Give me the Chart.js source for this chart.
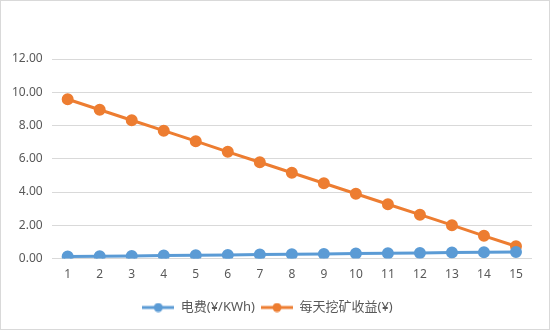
<!DOCTYPE html>
<html>
<head>
<meta charset="utf-8">
<script src="https://cdn.jsdelivr.net/npm/chart.js@4"></script>
<style>
  body { margin: 0; background: #fff; }
  #wrap { width: 550px; height: 330px; }
</style>
</head>
<body>
<div id="wrap"><canvas id="lineChart" width="550" height="330"></canvas></div>
<script>
const labels = ['1', '2', '3', '4', '5', '6', '7', '8', '9', '10', '11', '12', '13', '14', '15'];
const power = [0.12, 0.14, 0.16, 0.18, 0.20, 0.22, 0.24, 0.26, 0.28, 0.30, 0.32, 0.34, 0.36, 0.38, 0.40];
const profit = [9.58, 8.95, 8.32, 7.69, 7.06, 6.42, 5.79, 5.16, 4.53, 3.90, 3.27, 2.64, 2.01, 1.37, 0.74];
const names = ['电费(¥/KWh)', '每天挖矿收益(¥)'];
const colors = ['#5B9BD5', '#ED7D31'];

const font = "'Noto Sans', 'Noto Sans CJK SC', sans-serif";

// little line + dot sample for the legend
function legendMark(color) {
    const c = document.createElement('canvas');
    c.width = 32;
    c.height = 10;
    const g = c.getContext('2d');
    g.strokeStyle = color;
    g.lineWidth = 3;
    g.beginPath();
    g.moveTo(0, 5);
    g.lineTo(32, 5);
    g.stroke();
    g.fillStyle = color;
    g.beginPath();
    g.arc(16, 5, 4.5, 0, Math.PI * 2);
    g.fill();
    return c;
}
const marks = colors.map(legendMark);

const frame = {
    id: 'frame',
    afterDraw(chart) {
        const c = chart.ctx;
        c.save();
        c.strokeStyle = '#d9d9d9';
        c.lineWidth = 1;
        c.strokeRect(0.5, 0.5, chart.width - 1, chart.height - 1);
        c.restore();
    }
};

const ctx = document.getElementById('lineChart').getContext('2d');

const data = {
    labels: labels,
    datasets: [
    {
        label: names[0],
        data: power,
        borderColor: colors[0],
        backgroundColor: colors[0],
        borderWidth: 3,
        pointRadius: 4.5,
        pointHoverRadius: 4.5
    },
    {
        label: names[1],
        data: profit,
        borderColor: colors[1],
        backgroundColor: colors[1],
        borderWidth: 3,
        pointRadius: 4.5,
        pointHoverRadius: 4.5
    }]
};

const lineChart = new Chart(ctx, {
    type: 'line',
    data: data,
    plugins: [frame],
    options: {
        responsive: false,
        animation: false,
        layout: {
            padding: { top: 59, right: 18, left: 3, bottom: 6 }
        },
        scales: {
            x: {
                offset: true,
                grid: { display: false },
                border: { display: false },
                ticks: { color: '#595959', padding: 1, font: { family: font, size: 12 } },
                afterFit: scale => { scale.height += 12; }
            },
            y: {
                min: 0,
                max: 12,
                grid: { color: '#d9d9d9', drawTicks: false },
                border: { display: false },
                ticks: {
                    stepSize: 2,
                    color: '#595959',
                    padding: 9,
                    font: { family: font, size: 12 },
                    callback: v => v.toFixed(2)
                }
            }
        },
        plugins: {
            legend: {
                position: 'bottom',
                labels: {
                    usePointStyle: true,
                    pointStyleWidth: 32,
                    padding: 6,
                    color: '#595959',
                    font: { family: font, size: 13 },
                    generateLabels(chart) {
                        const items = Chart.defaults.plugins.legend.labels.generateLabels(chart);
                        items.forEach((it, i) => { it.pointStyle = marks[i]; });
                        return items;
                    }
                }
            },
            tooltip: { enabled: false }
        }
    }
});
</script>
</body>
</html>
